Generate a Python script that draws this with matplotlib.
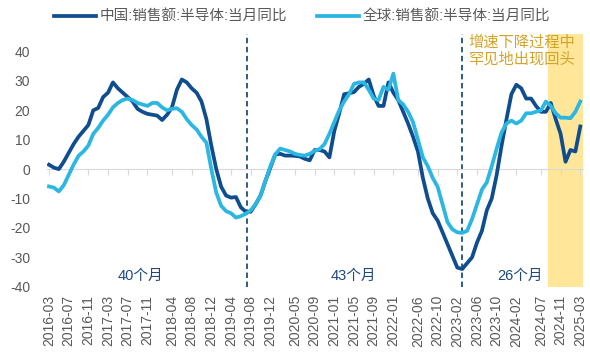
import matplotlib
matplotlib.use('Agg')
import matplotlib.pyplot as plt
import pandas as pd

plt.rcParams['font.family'] = ['Liberation Sans', 'Noto Sans CJK SC', 'DejaVu Sans']
plt.rcParams['axes.unicode_minus'] = False

# monthly YoY growth of semiconductor sales, 2016-03 .. 2025-03
months = pd.date_range('2016-03-01', '2025-03-01', freq='MS').strftime('%Y-%m')

china = [1.5, 0.5, 0.0, 2.5, 5.5, 8.5, 11, 13, 15, 20,
         20.8, 24.5, 26, 29.5, 27.5, 26, 24.5, 23, 20.5, 19.5,
         18.8, 18.5, 18.2, 16.7, 18.5, 21, 27, 30.5, 29.5, 27.5,
         26, 23, 17, 8, 0, -6, -9, -9.7, -9.5, -13,
         -14.5, -14.5, -12, -9, -4, 0.5, 5, 5.2, 4.6, 4.6,
         4.5, 4.3, 3.5, 3, 6.5, 6.5, 6, 4, 13, 19,
         25.5, 25.8, 26.2, 28, 29, 30.5, 25, 21.5, 21.5, 29.5,
         26, 23.5, 19.5, 15.5, 11, 6, -3, -10, -15, -17.5,
         -21.5, -25.5, -29.5, -33.5, -34, -32, -30, -25, -21, -14,
         -10, -2, 8, 17, 25.5, 28.7, 27.5, 24, 24, 21.5,
         19.5, 19.5, 22.5, 17, 12, 2.5, 6.5, 6, 14.5]

world = [-5.9, -6.3, -7.6, -5.5, -2, 1.5, 4.5, 6, 8, 12,
         14, 16.5, 18.5, 21, 22.5, 23.5, 24, 23.5, 22.5, 22,
         21.5, 22.5, 22.5, 21, 20, 20.5, 20.7, 19.5, 17, 15,
         13.5, 11, 9, 0, -8, -12.5, -14.3, -15, -16.5, -16,
         -15.2, -14, -12, -9, -4, 1, 5, 7, 6.5, 6,
         5.2, 4.8, 4.6, 5.2, 6.2, 6.8, 8.5, 12, 16, 20,
         23, 25.5, 29, 29.5, 29.5, 27, 24, 23.5, 28, 27,
         32.5, 23.5, 22, 19.5, 16, 10, 4, 1, -3, -6,
         -12, -18, -20.5, -21.5, -21.7, -21, -17, -12, -7, -4.5,
         1, 7, 12.5, 15.5, 16.5, 15.5, 16.5, 19, 19, 19.5,
         20, 23, 21.5, 19, 17.5, 17.5, 17.3, 19.5, 23]

tick_labels = ['2016-03', '2016-07', '2016-11', '2017-03', '2017-07', '2017-11',
               '2018-04', '2018-08', '2018-12', '2019-04', '2019-08', '2019-12',
               '2020-05', '2020-09', '2021-01', '2021-05', '2021-09', '2022-01',
               '2022-06', '2022-10', '2023-02', '2023-06', '2023-10', '2024-02',
               '2024-07', '2024-11', '2025-03']

dividers = [40.2, 83.9]               # month index of the dashed separators
span_text = ['40个月', '43个月', '26个月']
span_pos = [18.5, 61.8, 95.7]
shade_start = 101.4

dark = '#0f4d8f'
light = '#2cb6e2'
gold = '#d3a42c'

x = list(range(len(months)))
tick_pos = [list(months).index(t) for t in tick_labels]

fig = plt.figure(figsize=(5.9, 3.57), dpi=100)
ax = fig.add_axes([0.0797, 0.197, 0.908, 0.708])

ax.axvspan(shade_start, len(months) - 0.5, color='#ffe699', zorder=0, lw=0)
ax.plot(x, china, color=dark, lw=2.7, label='中国:销售额:半导体:当月同比',
        solid_joinstyle='round', zorder=3)
ax.plot(x, world, color=light, lw=2.7, label='全球:销售额:半导体:当月同比',
        solid_joinstyle='round', zorder=3)
for d in dividers:
    ax.axvline(d, color='#1f4e79', lw=1.3, ls=(0, (3, 2)), zorder=2)

ax.set_xlim(-0.4, len(months) - 0.5)
ax.set_ylim(-40, 46)
ax.set_yticks(range(-40, 41, 10))
ax.tick_params(axis='y', length=0, pad=12, labelsize=10, labelcolor='#595959')

for s in ['top', 'right', 'left']:
    ax.spines[s].set_visible(False)
ax.spines['bottom'].set_position(('data', 0))
ax.spines['bottom'].set_color('#d9d9d9')
ax.set_xticks(tick_pos)
ax.tick_params(axis='x', direction='out', length=4, color='#d9d9d9',
               labelbottom=False)

sec = ax.secondary_xaxis('bottom')
sec.set_xticks(tick_pos, tick_labels, rotation=90)
sec.tick_params(length=0, pad=6, labelsize=10, labelcolor='#595959')
sec.spines['bottom'].set_visible(False)

for t, p in zip(span_text, span_pos):
    ax.text(p, -36.2, t, color='#1f497d', fontsize=10.5, ha='center', va='center')

ax.text(85.2, 45.5, '增速下降过程中\n罕见地出现回头', color=gold, fontsize=11,
        ha='left', va='top', linespacing=1.2)

fig.legend(loc='center', bbox_to_anchor=(0.512, 0.952), ncol=2, frameon=False,
           fontsize=10.5, labelcolor='#595959', handlelength=2.9,
           handletextpad=0.25, columnspacing=2.0)

fig.savefig('out.png', dpi=100)
plt.close()
